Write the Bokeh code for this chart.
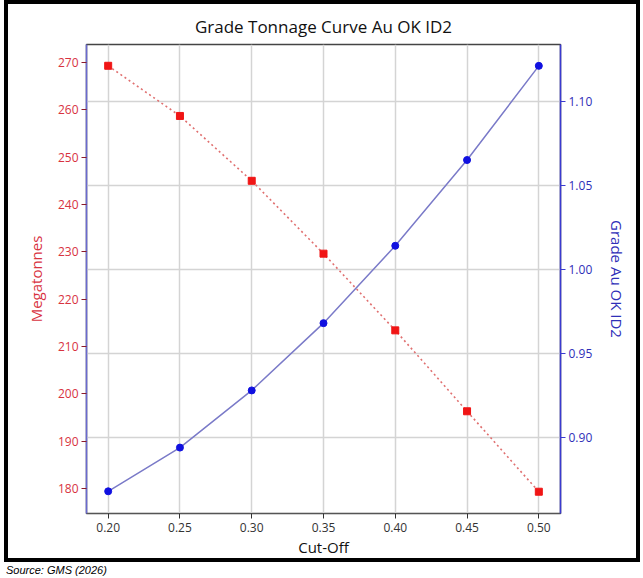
from bokeh.plotting import figure
from bokeh.models import (Range1d, LinearAxis, FixedTicker, NumeralTickFormatter,
                          Grid, Div)
from bokeh.layouts import column
from bokeh.embed import file_html
from bokeh.resources import INLINE

# ---- data ----
cutoff = [0.20, 0.25, 0.30, 0.35, 0.40, 0.45, 0.50]
megatonnes = [269.3, 258.7, 245.0, 229.6, 213.4, 196.3, 179.3]
grade = [0.868, 0.894, 0.928, 0.968, 1.014, 1.065, 1.121]

x_ticks = [0.20, 0.25, 0.30, 0.35, 0.40, 0.45, 0.50]
left_ticks = [180, 190, 200, 210, 220, 230, 240, 250, 260, 270]
right_ticks = [0.90, 0.95, 1.00, 1.05, 1.10]

title_text = "Grade Tonnage Curve Au OK ID2"
x_label = "Cut-Off"
left_label = "Megatonnes"
right_label = "Grade Au OK ID2"
source_text = "Source: GMS (2026)"

FONT = "Open Sans"
RED = "#d8333f"
BLUE = "#2f2fb8"

p = figure(width=636, height=562, output_backend="svg", toolbar_location=None,
           x_range=Range1d(0.1849, 0.5151), y_range=Range1d(174.7, 273.8),
           min_border_left=78, min_border_right=84, min_border_top=40,
           min_border_bottom=53, margin=(0, 0, 0, 4),
           styles={"border": "4px solid black"})

p.extra_y_ranges = {"grade": Range1d(0.8548, 1.1337)}

# title
p.title.text = title_text
p.title.align = "center"
p.title.vertical_align = "top"
p.title.text_line_height = 1.0
p.title.text_font = FONT
p.title.text_font_size = "17px"
p.title.text_font_style = "normal"
p.title.text_color = "#111111"
p.title.standoff = 10

p.outline_line_color = "#444444"
p.outline_line_width = 1.5
p.background_fill_color = "white"
p.border_fill_color = "white"

# x axis
xa = p.xaxis[0]
xa.ticker = FixedTicker(ticks=x_ticks)
xa.formatter = NumeralTickFormatter(format="0.00")
xa.axis_label = x_label
xa.axis_label_text_font = FONT
xa.axis_label_text_font_size = "15px"
xa.axis_label_text_font_style = "normal"
xa.axis_label_text_color = "#111111"
xa.axis_label_standoff = 2
xa.major_label_text_font = FONT
xa.major_label_text_font_size = "12px"
xa.major_label_text_color = "#333333"
xa.major_label_standoff = 4
xa.major_tick_out = 5
xa.major_tick_in = 0
xa.minor_tick_out = 0
xa.minor_tick_in = 0
xa.axis_line_color = "#555555"
xa.major_tick_line_color = "#333333"

# left axis
ya = p.yaxis[0]
ya.ticker = FixedTicker(ticks=left_ticks)
ya.axis_label = left_label
ya.axis_label_text_font = FONT
ya.axis_label_text_font_size = "15px"
ya.axis_label_text_font_style = "normal"
ya.axis_label_text_color = RED
ya.axis_label_standoff = 9
ya.major_label_text_font = FONT
ya.major_label_text_font_size = "12px"
ya.major_label_text_color = RED
ya.major_label_standoff = 3
ya.major_tick_out = 5
ya.major_tick_in = 0
ya.minor_tick_out = 0
ya.minor_tick_in = 0
ya.axis_line_color = "#6a6ad0"
ya.axis_line_width = 1.5
ya.major_tick_line_color = "#8b1a2a"

# right axis
ra = LinearAxis(y_range_name="grade", ticker=FixedTicker(ticks=right_ticks),
                formatter=NumeralTickFormatter(format="0.00"))
ra.axis_label = right_label
ra.axis_label_text_font = FONT
ra.axis_label_text_font_size = "15px"
ra.axis_label_text_font_style = "normal"
ra.axis_label_text_color = BLUE
ra.axis_label_standoff = 12
ra.major_label_text_font = FONT
ra.major_label_text_font_size = "12px"
ra.major_label_text_color = BLUE
ra.major_label_standoff = 3
ra.major_tick_out = 5
ra.major_tick_in = 0
ra.minor_tick_out = 0
ra.minor_tick_in = 0
ra.axis_line_color = "#3a3ad0"
ra.axis_line_width = 1.5
ra.major_tick_line_color = "#3a3ad0"
p.add_layout(ra, "right")

# grids
p.xgrid.grid_line_color = "#d4d4d4"
p.xgrid.grid_line_width = 1.5
p.xgrid.ticker = xa.ticker
p.ygrid.visible = False
g = Grid(dimension=1, ticker=ra.ticker, y_range_name="grade",
         grid_line_color="#d4d4d4", grid_line_width=1.5)
p.add_layout(g)

# series
p.line(cutoff, megatonnes, line_color="#e07070", line_width=1.6, line_dash="2 3")
p.scatter(cutoff, megatonnes, marker="square", size=7, fill_color="#f01515",
          line_color="#f01515")

p.line(cutoff, grade, y_range_name="grade", line_color="#7a7ac8", line_width=1.5)
p.scatter(cutoff, grade, y_range_name="grade", marker="circle", size=7,
          fill_color="#1010e0", line_color="#1010e0")

src = Div(text=source_text, width=300, height=16, margin=(0, 0, 0, 6),
          styles={"font-family": "'Liberation Sans', Arial, sans-serif",
                  "font-style": "italic", "font-size": "11px",
                  "line-height": "16px", "color": "#000000"})

layout = column(p, src, spacing=0)

open("out.html", "w").write(file_html(layout, INLINE))
